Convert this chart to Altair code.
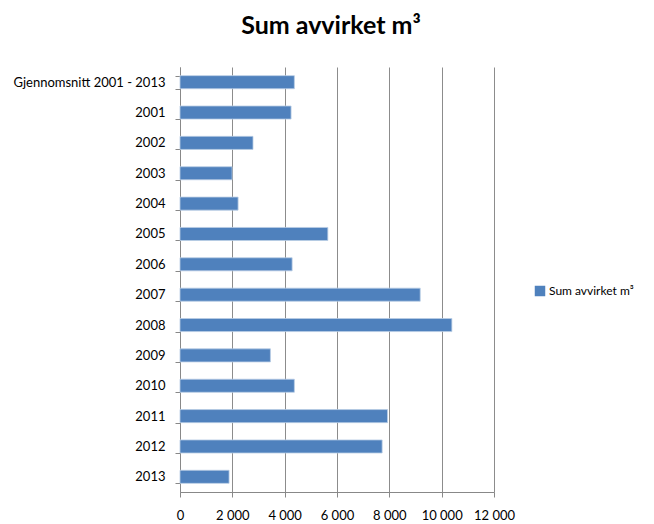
import altair as alt
import pandas as pd

categories = ["Gjennomsnitt 2001 - 2013", "2001", "2002", "2003", "2004", "2005", "2006",
              "2007", "2008", "2009", "2010", "2011", "2012", "2013"]
values = [4370, 4245, 2790, 1990, 2220, 5650, 4285, 9180, 10390, 3455, 4370, 7930, 7725, 1875]
series_name = "Sum avvirket m³"
x_ticks = [0, 2000, 4000, 6000, 8000, 10000, 12000]

df = pd.DataFrame({"kategori": categories, "verdi": values, "serie": [series_name] * len(categories)})

FONT = "Lato"

chart = alt.Chart(df).mark_bar(stroke="#b9cde5", strokeWidth=0.8).encode(
    y=alt.Y("kategori:N", sort=categories, title=None,
            scale=alt.Scale(paddingInner=0.57, paddingOuter=0.285),
            axis=alt.Axis(tickBand="extent", tickSize=5, labelPadding=10, labelFontSize=13,
                          labelFont=FONT, labelColor="#000000", domainColor="#888888",
                          tickColor="#888888", grid=False)),
    x=alt.X("verdi:Q", title=None,
            scale=alt.Scale(domain=[0, 12000], nice=False),
            axis=alt.Axis(values=x_ticks, tickSize=5, labelPadding=12, labelFontSize=13,
                          labelOverlap=False, labelBound=False, labelFlush=False,
                          labelFont=FONT, labelColor="#000000", domainColor="#888888",
                          tickColor="#888888", grid=True, gridColor="#8c8c8c", gridWidth=1,
                          labelExpr="replace(format(datum.value, ','), ',', ' ')")),
    color=alt.Color("serie:N", scale=alt.Scale(range=["#4f81bd"]),
                    legend=alt.Legend(title=None, orient="none", legendX=354, legendY=218,
                                      symbolType="square", symbolSize=110, symbolStrokeWidth=0,
                                      labelFont=FONT, labelFontSize=12, labelColor="#000000",
                                      padding=0, labelOffset=3)),
).properties(
    width=314,
    height=425,
    title=alt.TitleParams(series_name, font=FONT, fontSize=25, fontWeight="bold",
                          color="#000000", anchor="middle", dx=-6, offset=22),
    autosize=alt.AutoSizeParams(type="none"),
    padding={"left": 172, "top": 59, "right": 152, "bottom": 32},
).configure_view(stroke=None)

chart.save("out.html", embed_options={"renderer": "svg", "actions": False})
